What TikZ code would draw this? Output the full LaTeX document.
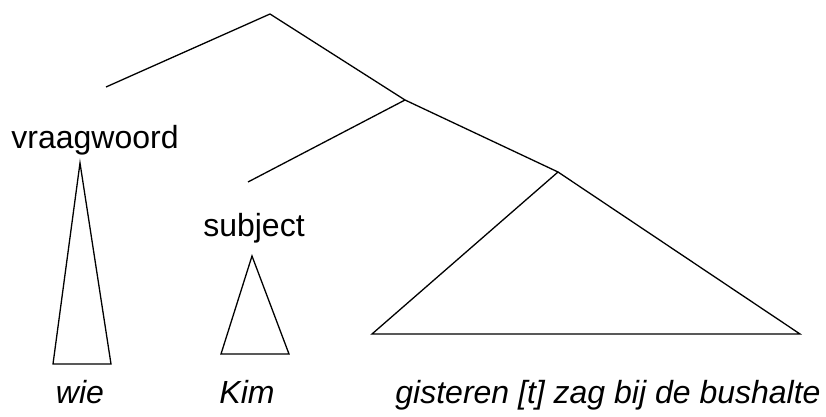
\documentclass[tikz,border=0pt]{standalone}
\usepackage{fontspec}
\newfontfamily\lab{Liberation Sans}
\begin{document}
\begin{tikzpicture}[x=1pt,y=-1pt,
  br/.style={line width=1.3pt,line join=miter},
  lbl/.style={inner sep=0pt,anchor=base,font=\lab\fontsize{32}{36}\selectfont},
  wrd/.style={lbl,font=\lab\itshape\fontsize{32}{36}\selectfont}]
\useasboundingbox (0,0) rectangle (826,417);
% tree points
\coordinate (top) at (270,14);
\coordinate (lft) at (106,87);
\coordinate (mid) at (405,100);
\coordinate (sub) at (248,182);
\coordinate (vp) at (558,172);
% labels
\node[lbl] (vw) at (95,148) {vraagwoord};
\node[lbl] (sj) at (254,236) {subject};
% triangles
\coordinate (t1a) at (80,163);
\coordinate (t1l) at (53,364);
\coordinate (t1r) at (111,364);
\coordinate (t2a) at (252,256);
\coordinate (t2l) at (221,354);
\coordinate (t2r) at (289,354);
\coordinate (t3l) at (372,334);
\coordinate (t3r) at (800,334);
% words
\node[wrd] (w1) at (80,403) {wie};
\node[wrd] (w2) at (247,403) {Kim};
\node[wrd] (w3) at (608,403) {gisteren [t] zag bij de bushalte};
% branches
\draw[br] (lft) -- (top) -- (mid);
\draw[br] (sub) -- (mid) -- (vp);
\draw[br] (t1a) -- (t1l) -- (t1r) -- cycle;
\draw[br] (t2a) -- (t2l) -- (t2r) -- cycle;
\draw[br] (vp) -- (t3l) -- (t3r) -- cycle;
\end{tikzpicture}
\end{document}
